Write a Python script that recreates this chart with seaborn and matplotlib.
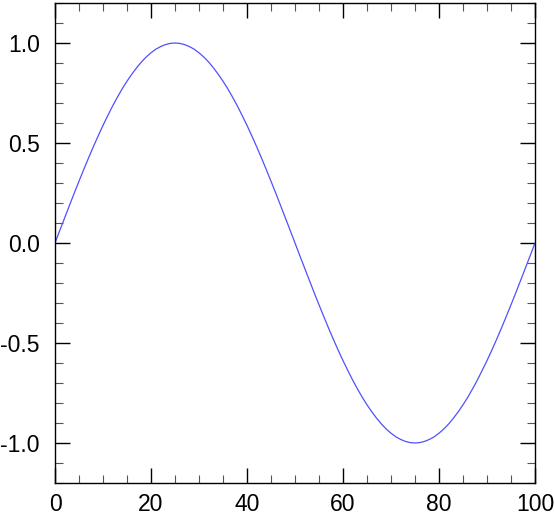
import seaborn as sns
from matplotlib import pyplot as plt
from matplotlib.ticker import MultipleLocator

# curve values, one per x unit
x = list(range(0, 101))
y = [0.000, 0.063, 0.125, 0.187, 0.249, 0.309, 0.368, 0.426, 0.482, 0.536,
     0.588, 0.637, 0.685, 0.729, 0.771, 0.809, 0.844, 0.876, 0.905, 0.930,
     0.951, 0.969, 0.982, 0.992, 0.998, 1.000, 0.998, 0.992, 0.982, 0.969,
     0.951, 0.930, 0.905, 0.876, 0.844, 0.809, 0.771, 0.729, 0.685, 0.637,
     0.588, 0.536, 0.482, 0.426, 0.368, 0.309, 0.249, 0.187, 0.125, 0.063,
     0.000, -0.063, -0.125, -0.187, -0.249, -0.309, -0.368, -0.426, -0.482, -0.536,
     -0.588, -0.637, -0.685, -0.729, -0.771, -0.809, -0.844, -0.876, -0.905, -0.930,
     -0.951, -0.969, -0.982, -0.992, -0.998, -1.000, -0.998, -0.992, -0.982, -0.969,
     -0.951, -0.930, -0.905, -0.876, -0.844, -0.809, -0.771, -0.729, -0.685, -0.637,
     -0.588, -0.536, -0.482, -0.426, -0.368, -0.309, -0.249, -0.187, -0.125, -0.063,
     0.000]
x_ticks = [0, 20, 40, 60, 80, 100]
y_ticks = [-1.0, -0.5, 0.0, 0.5, 1.0]

sns.set_style("ticks")
plt.rcParams['font.family'] = ['Liberation Sans', 'DejaVu Sans']

fig, ax = plt.subplots(figsize=(5.54, 5.18), dpi=100)
fig.subplots_adjust(left=55/554, right=535/554, top=1-3/518, bottom=1-483/518)

sns.lineplot(x=x, y=y, ax=ax, color='#5050ff', linewidth=0.9)

ax.set_xlim(0, 100)
ax.set_ylim(-1.2, 1.2)
ax.set_xticks(x_ticks)
ax.set_xticklabels([str(t) for t in x_ticks])
ax.set_yticks(y_ticks)
ax.set_yticklabels(["{:.1f}".format(t) for t in y_ticks])
ax.xaxis.set_minor_locator(MultipleLocator(5))
ax.yaxis.set_minor_locator(MultipleLocator(0.1))
ax.tick_params(which='both', direction='in', top=True, right=True, colors='black', labelsize=16.5)
ax.tick_params(which='major', length=11, width=1)
ax.tick_params(which='minor', length=5.5, width=0.8, color='#555555')
ax.tick_params(axis='x', which='major', pad=7)
ax.tick_params(axis='y', which='major', pad=11)
for s in ax.spines.values():
    s.set_linewidth(1)
    s.set_color('black')

fig.savefig('out.png', dpi=100)
